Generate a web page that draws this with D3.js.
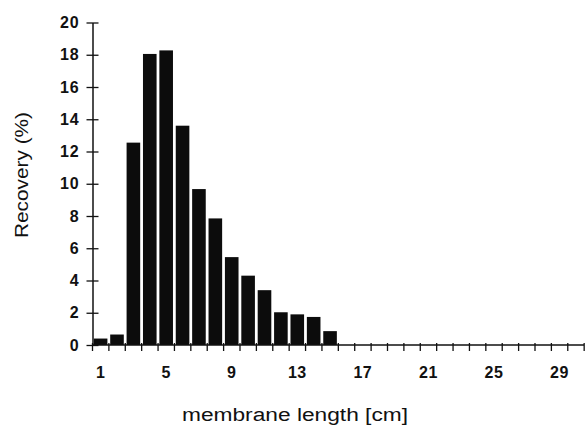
<!DOCTYPE html>
<html>
<head>
<meta charset="utf-8">
<script src="https://cdn.jsdelivr.net/npm/d3@7"></script>
<style>
  html, body { margin: 0; padding: 0; background: #fff; }
  svg { display: block; }
  text { font-family: "Liberation Sans", Arial, sans-serif; fill: #111; }
</style>
</head>
<body>
<script>
const categories = d3.range(1, 31);
const recovery = [0.4, 0.65, 12.55, 18.05, 18.27, 13.6, 9.67, 7.85, 5.45, 4.3, 3.4, 2.03, 1.9, 1.74, 0.86,
                  0, 0, 0, 0, 0, 0, 0, 0, 0, 0, 0, 0, 0, 0, 0];
const xTickLabels = [1, 5, 9, 13, 17, 21, 25, 29];
const yTicks = [0, 2, 4, 6, 8, 10, 12, 14, 16, 18, 20];

const W = 586, H = 426;
const svg = d3.select("body").append("svg").attr("width", W).attr("height", H);

const x = d3.scaleBand().domain(categories).range([92.5, 584]).paddingInner(0.17).paddingOuter(0.08);
const y = d3.scaleLinear().domain([0, 20]).range([345, 22.5]);

// bars
svg.append("g").selectAll("rect")
  .data(categories.map((c, i) => ({c, v: recovery[i]})).filter(d => d.v > 0))
  .join("rect")
  .attr("x", d => x(d.c))
  .attr("width", x.bandwidth())
  .attr("y", d => y(d.v))
  .attr("height", d => y(0) - y(d.v))
  .attr("fill", "#0c0c0c");

// y axis
const yAxis = svg.append("g").attr("transform", `translate(${x.range()[0]},0)`)
  .call(d3.axisLeft(y).tickValues(yTicks).tickSize(6).tickPadding(10).tickSizeOuter(0));
yAxis.select(".domain").attr("stroke", "#111").attr("stroke-width", 1.5);
yAxis.selectAll(".tick line").attr("x2", 6).attr("x1", -6).attr("stroke", "#111").attr("stroke-width", 1.3);
yAxis.selectAll(".tick text").attr("font-size", 16).attr("font-weight", "bold")
  .attr("letter-spacing", 0.8).attr("x", -13);

// x axis: ticks at category boundaries
const step = x.step();
const x0 = x.range()[0];
const boundaries = d3.range(0, categories.length + 1).map(k => x0 + k * step);
const xg = svg.append("g");
xg.append("line").attr("x1", x0).attr("x2", x.range()[1]).attr("y1", y(0)).attr("y2", y(0))
  .attr("stroke", "#111").attr("stroke-width", 1.5);
xg.selectAll("line.t").data(boundaries).join("line").attr("class", "t")
  .attr("x1", d => d).attr("x2", d => d).attr("y1", y(0) - 2).attr("y2", y(0) + 6)
  .attr("stroke", "#111").attr("stroke-width", 1.3);
xg.selectAll("text").data(xTickLabels).join("text")
  .attr("x", d => x(d) + x.bandwidth() / 2)
  .attr("y", 378)
  .attr("text-anchor", "middle")
  .attr("font-size", 16).attr("font-weight", "bold").attr("letter-spacing", 0.5)
  .text(d => d);

// titles
svg.append("text").attr("x", 295).attr("y", 421).attr("text-anchor", "middle")
  .attr("font-size", 18).attr("textLength", 226).attr("lengthAdjust", "spacingAndGlyphs")
  .text("membrane length [cm]");
svg.append("text").attr("transform", "translate(28,175) rotate(-90)").attr("text-anchor", "middle")
  .attr("font-size", 19).attr("textLength", 126).attr("lengthAdjust", "spacingAndGlyphs")
  .text("Recovery (%)");
</script>
</body>
</html>
